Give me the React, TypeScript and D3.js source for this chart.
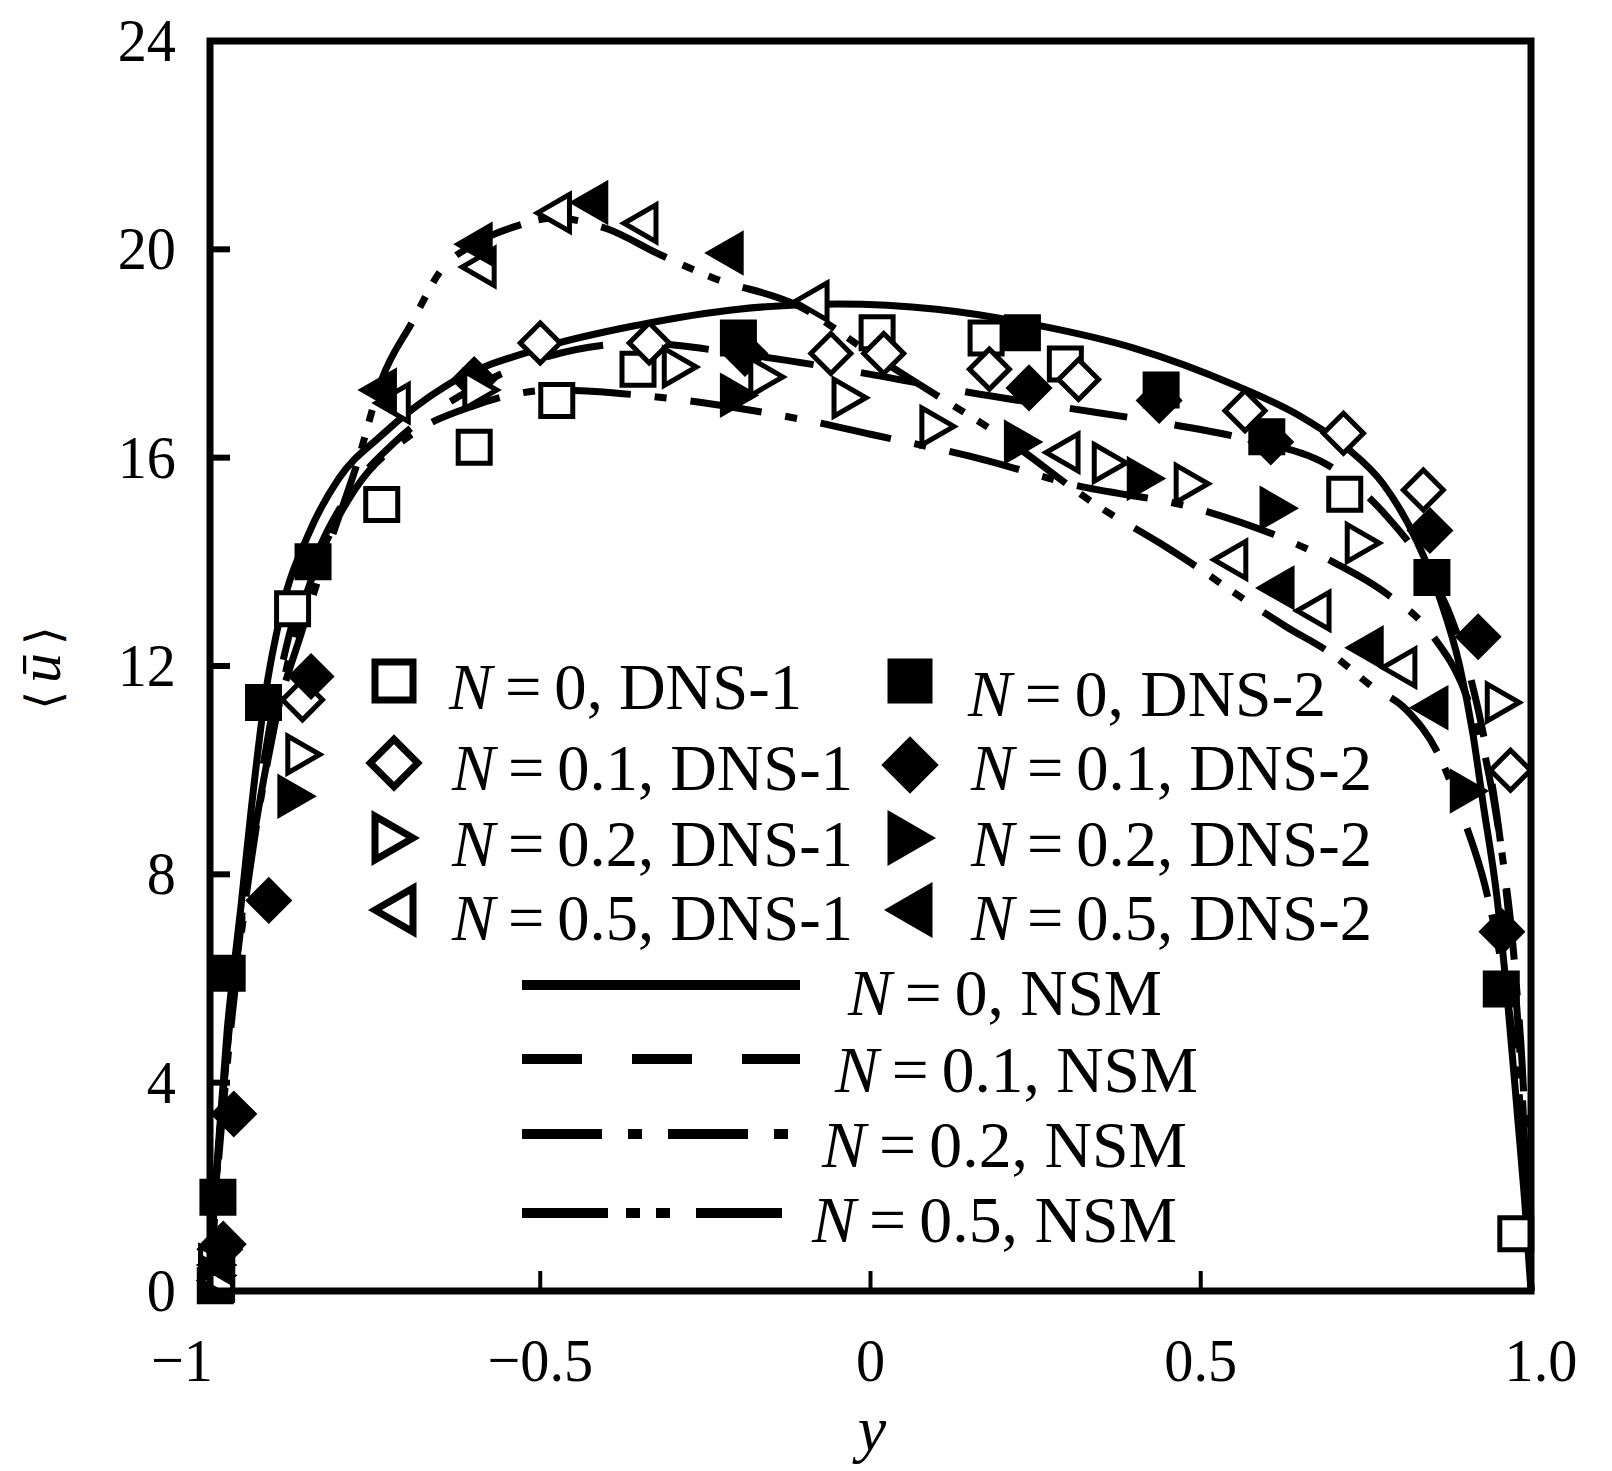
import React from 'react';
import * as d3 from 'd3';

const W = 1612;
const H = 1471;

// axes
const xTicks = [-1, -0.5, 0, 0.5, 1.0];
const xTickLabels = ['−1', '−0.5', '0', '0.5', '1.0'];
const yTicks = [0, 4, 8, 12, 16, 20, 24];
const yTickLabels = ['0', '4', '8', '12', '16', '20', '24'];

// NSM curves
const nsm0Y = [-1, -0.995, -0.989, -0.98, -0.974, -0.963, -0.953, -0.938, -0.918, -0.891, -0.852, -0.805, -0.743, -0.64, -0.5, -0.35, -0.2, -0.05, 0.1, 0.25, 0.4, 0.55, 0.65, 0.72, 0.776, 0.827, 0.862, 0.892, 0.912, 0.927, 0.949, 0.965, 0.98, 0.99, 1.0];
const nsm0U = [0, 1.3, 2.5, 4.0, 5.0, 6.3, 7.4, 9.2, 11.3, 13.1, 14.5, 15.6, 16.4, 17.4, 18.1, 18.55, 18.85, 18.95, 18.85, 18.55, 18.1, 17.4, 16.8, 16.2, 15.5, 14.4, 13.3, 12.0, 10.7, 9.4, 7.5, 5.5, 3.3, 1.8, 0];

const nsm1Y = [-1, -0.99, -0.975, -0.955, -0.935, -0.91, -0.88, -0.84, -0.79, -0.72, -0.62, -0.5, -0.35, -0.2, 0, 0.15, 0.3, 0.45, 0.57, 0.7, 0.78, 0.84, 0.88, 0.91, 0.935, 0.955, 0.97, 0.985, 1];
const nsm1U = [0, 2.2, 4.5, 6.8, 8.8, 10.8, 12.6, 14.1, 15.3, 16.3, 17.2, 17.9, 18.2, 18.0, 17.6, 17.25, 16.95, 16.65, 16.35, 15.8, 14.9, 13.9, 12.9, 11.7, 10.2, 8.5, 6.7, 4.2, 0];

const nsm2Y = [-1, -0.99, -0.975, -0.955, -0.93, -0.9, -0.87, -0.83, -0.78, -0.7, -0.6, -0.48, -0.35, -0.2, -0.09, 0, 0.175, 0.3, 0.5, 0.7, 0.78, 0.85, 0.9, 0.93, 0.955, 0.975, 0.99, 1];
const nsm2U = [0, 2.0, 4.2, 6.6, 8.9, 11.0, 12.7, 14.2, 15.4, 16.4, 17.0, 17.3, 17.2, 16.95, 16.7, 16.45, 15.95, 15.5, 15.0, 14.0, 13.4, 12.6, 11.5, 10.3, 8.5, 6.3, 3.5, 0];

const nsm5Y = [-1, -0.99, -0.975, -0.955, -0.93, -0.9, -0.86, -0.82, -0.777, -0.74, -0.694, -0.65, -0.6, -0.535, -0.48, -0.4, -0.319, -0.238, -0.107, 0, 0.1, 0.2, 0.347, 0.438, 0.506, 0.54, 0.63, 0.696, 0.76, 0.812, 0.862, 0.9, 0.93, 0.955, 0.975, 0.99, 1];
const nsm5U = [0, 2.2, 4.5, 6.9, 9.0, 11.0, 12.7, 14.3, 15.9, 17.5, 18.6, 19.6, 20.1, 20.45, 20.6, 20.4, 19.9, 19.45, 18.9, 18.0, 17.2, 16.4, 15.05, 14.36, 13.8, 13.5, 12.75, 12.25, 11.6, 11.15, 10.25, 9.0, 7.8, 6.3, 4.6, 2.5, 0];

// DNS markers
const d1n0Y = [-0.99, -0.875, -0.74, -0.6, -0.475, -0.352, 0.01, 0.175, 0.295, 0.718, 0.977];
const d1n0U = [0.3, 13.1, 15.1, 16.2, 17.1, 17.7, 18.4, 18.3, 17.8, 15.3, 1.1];
const d2n0Y = [-0.992, -0.988, -0.974, -0.919, -0.844, -0.2, 0.23, 0.44, 0.6, 0.85, 0.955];
const d2n0U = [0.1, 1.8, 6.1, 11.3, 14.0, 18.3, 18.4, 17.3, 16.4, 13.7, 5.8];

const d1n1Y = [-0.985, -0.86, -0.5, -0.335, -0.06, 0.02, 0.18, 0.315, 0.567, 0.716, 0.837, 0.969];
const d1n1U = [0.8, 11.35, 18.2, 18.2, 18.0, 18.0, 17.7, 17.5, 16.9, 16.47, 15.38, 10.0];
const d2n1Y = [-0.98, -0.964, -0.911, -0.847, -0.6, -0.19, 0.24, 0.437, 0.606, 0.847, 0.92, 0.956];
const d2n1U = [0.9, 3.4, 7.5, 11.8, 17.5, 18.0, 17.34, 17.1, 16.3, 14.6, 12.56, 6.9];

const d1n2Y = [-0.99, -0.858, -0.59, -0.288, -0.157, -0.031, 0.102, 0.363, 0.487, 0.746, 0.958];
const d1n2U = [0.5, 10.3, 17.3, 17.74, 17.55, 17.15, 16.6, 15.9, 15.5, 14.36, 11.3];
const d2n2Y = [-0.99, -0.87, -0.2, 0.23, 0.416, 0.617, 0.905];
const d2n2U = [0.3, 9.5, 17.2, 16.3, 15.6, 15.03, 9.6];

const d1n5Y = [-0.99, -0.724, -0.594, -0.48, -0.349, -0.09, 0.29, 0.544, 0.67, 0.8];
const d1n5U = [0.2, 17.05, 19.66, 20.7, 20.5, 19.0, 16.1, 14.04, 13.06, 11.97];
const d2n5Y = [-0.99, -0.745, -0.6, -0.425, -0.22, 0.614, 0.749, 0.847];
const d2n5U = [0.5, 17.3, 20.1, 20.9, 19.93, 13.5, 12.35, 11.2];

const FONT = '"Liberation Serif", "Times New Roman", serif';

const x = d3.scaleLinear().domain([-1, 1]).range([210, 1531]);
const y = d3.scaleLinear().domain([0, 24]).range([1291, 41]);

type Shape = 'square' | 'diamond' | 'tri-right' | 'tri-left';

function shapePath(shape: Shape, s: number): string {
  const h = s / 2;
  switch (shape) {
    case 'square':
      return `M${-h},${-h}L${h},${-h}L${h},${h}L${-h},${h}Z`;
    case 'diamond':
      return `M0,${-h * 1.25}L${h * 1.25},0L0,${h * 1.25}L${-h * 1.25},0Z`;
    case 'tri-right':
      return `M${-h},${-h * 1.15}L${h},0L${-h},${h * 1.15}Z`;
    case 'tri-left':
      return `M${h},${-h * 1.15}L${-h},0L${h},${h * 1.15}Z`;
  }
}

const lineGen = (ys: number[], us: number[]) =>
  d3
    .line<number>()
    .x((_, i) => x(ys[i]))
    .y((d) => y(d))
    .curve(d3.curveMonotoneX)(us) || '';

const curves = [
  { ys: nsm0Y, us: nsm0U, dash: '' },
  { ys: nsm1Y, us: nsm1U, dash: '58 48' },
  { ys: nsm2Y, us: nsm2U, dash: '72 24 12 24' },
  { ys: nsm5Y, us: nsm5U, dash: '72 18 12 16 12 24' },
];

const markerSets: { ys: number[]; us: number[]; shape: Shape; filled: boolean }[] = [
  { ys: d1n0Y, us: d1n0U, shape: 'square', filled: false },
  { ys: d2n0Y, us: d2n0U, shape: 'square', filled: true },
  { ys: d1n1Y, us: d1n1U, shape: 'diamond', filled: false },
  { ys: d2n1Y, us: d2n1U, shape: 'diamond', filled: true },
  { ys: d1n2Y, us: d1n2U, shape: 'tri-right', filled: false },
  { ys: d2n2Y, us: d2n2U, shape: 'tri-right', filled: true },
  { ys: d1n5Y, us: d1n5U, shape: 'tri-left', filled: false },
  { ys: d2n5Y, us: d2n5U, shape: 'tri-left', filled: true },
];

const dnsLegend = [
  { shape: 'square' as Shape, filled: false, n: '0', src: 'DNS-1', mx: 394, my: 681, tx: 449, ty: 709, w: 353 },
  { shape: 'square' as Shape, filled: true, n: '0', src: 'DNS-2', mx: 910, my: 681, tx: 968, ty: 716, w: 358 },
  { shape: 'diamond' as Shape, filled: false, n: '0.1', src: 'DNS-1', mx: 394, my: 763, tx: 452, ty: 790, w: 401 },
  { shape: 'diamond' as Shape, filled: true, n: '0.1', src: 'DNS-2', mx: 910, my: 765, tx: 971, ty: 790, w: 401 },
  { shape: 'tri-right' as Shape, filled: false, n: '0.2', src: 'DNS-1', mx: 394, my: 838, tx: 452, ty: 866, w: 401 },
  { shape: 'tri-right' as Shape, filled: true, n: '0.2', src: 'DNS-2', mx: 910, my: 838, tx: 971, ty: 866, w: 401 },
  { shape: 'tri-left' as Shape, filled: false, n: '0.5', src: 'DNS-1', mx: 394, my: 910, tx: 452, ty: 940, w: 401 },
  { shape: 'tri-left' as Shape, filled: true, n: '0.5', src: 'DNS-2', mx: 910, my: 910, tx: 971, ty: 940, w: 401 },
];

const nsmLegend = [
  { n: '0', dash: '', ly: 985, tx: 848, ty: 1015, w: 314 },
  { n: '0.1', dash: '60 50', ly: 1059, tx: 835, ty: 1092, w: 363 },
  { n: '0.2', dash: '80 26 14 26', ly: 1134, tx: 822, ty: 1167, w: 365 },
  { n: '0.5', dash: '86 18 14 16 14 26', ly: 1213, tx: 812, ty: 1242, w: 365 },
];

const SP = '\u2009';

export default function App() {
  return (
    <svg width={W} height={H} viewBox={`0 0 ${W} ${H}`} style={{ display: 'block', position: 'absolute', left: 0, top: 0, background: '#fff' }}>
      <rect x={0} y={0} width={W} height={H} fill="#fff" />
      {/* curves */}
      {curves.map((c, i) => (
        <path key={'c' + i} d={lineGen(c.ys, c.us)} fill="none" stroke="#000" strokeWidth={7} strokeDasharray={c.dash || undefined} strokeLinejoin="round" />
      ))}
      {/* markers */}
      {markerSets.map((m, i) => (
        <g key={'m' + i}>
          {m.ys.map((yy, j) => (
            <path
              key={j}
              transform={`translate(${x(yy)},${y(m.us[j])})`}
              d={shapePath(m.shape, 32)}
              fill={m.filled ? '#000' : '#fff'}
              stroke="#000"
              strokeWidth={5}
              strokeLinejoin="miter"
            />
          ))}
        </g>
      ))}
      {/* frame */}
      <rect x={x(-1)} y={y(24)} width={x(1) - x(-1)} height={y(0) - y(24)} fill="none" stroke="#000" strokeWidth={7} />
      {/* ticks */}
      {yTicks.slice(1, -1).map((t) => (
        <line key={'yt' + t} x1={x(-1)} x2={x(-1) + 20} y1={y(t)} y2={y(t)} stroke="#000" strokeWidth={6} />
      ))}
      {xTicks.slice(1, -1).map((t) => (
        <line key={'xt' + t} x1={x(t)} x2={x(t)} y1={y(0)} y2={y(0) - 20} stroke="#000" strokeWidth={4} />
      ))}
      {/* tick labels */}
      {yTicks.map((t, i) => (
        <text key={'yl' + t} transform={`translate(176,${y(t) + 20}) scale(0.94,1)`} textAnchor="end" fontFamily={FONT} fontSize={62}>
          {yTickLabels[i]}
        </text>
      ))}
      {xTicks.map((t, i) => (
        <text
          key={'xl' + t}
          transform={`translate(${x(t) + (i === 0 ? -28 : i === xTicks.length - 1 ? 10 : 0)},1381) scale(0.94,1)`}
          textAnchor="middle"
          fontFamily={FONT}
          fontSize={62}
        >
          {xTickLabels[i]}
        </text>
      ))}
      {/* axis titles */}
      <text x={872} y={1450} textAnchor="middle" fontFamily={FONT} fontSize={64} fontStyle="italic">
        y
      </text>
      <text transform="translate(60,668) rotate(-90)" textAnchor="middle" fontFamily={FONT} fontSize={60}>
        <tspan fontFamily='"DejaVu Serif", serif' fontSize={48}>⟨</tspan>
        <tspan fontStyle="italic" dx={8}>ū</tspan>
        <tspan fontFamily='"DejaVu Serif", serif' fontSize={48} dx={8}>⟩</tspan>
      </text>
      {/* legend: DNS */}
      {dnsLegend.map((l, i) => (
        <g key={'dl' + i}>
          <path transform={`translate(${l.mx},${l.my})`} d={shapePath(l.shape, 38)} fill={l.filled ? '#000' : '#fff'} stroke="#000" strokeWidth={7} />
          <text x={l.tx} y={l.ty} fontFamily={FONT} fontSize={65} textLength={l.w} lengthAdjust="spacingAndGlyphs">
            <tspan fontStyle="italic">N</tspan>
            <tspan>{`${SP}=${SP}${l.n}, ${l.src}`}</tspan>
          </text>
        </g>
      ))}
      {/* legend: NSM */}
      {nsmLegend.map((l, i) => (
        <g key={'nl' + i}>
          <line x1={522} x2={800} y1={l.ly} y2={l.ly} stroke="#000" strokeWidth={10} strokeDasharray={l.dash || undefined} />
          <text x={l.tx} y={l.ty} fontFamily={FONT} fontSize={65} textLength={l.w} lengthAdjust="spacingAndGlyphs">
            <tspan fontStyle="italic">N</tspan>
            <tspan>{`${SP}=${SP}${l.n}, NSM`}</tspan>
          </text>
        </g>
      ))}
    </svg>
  );
}
